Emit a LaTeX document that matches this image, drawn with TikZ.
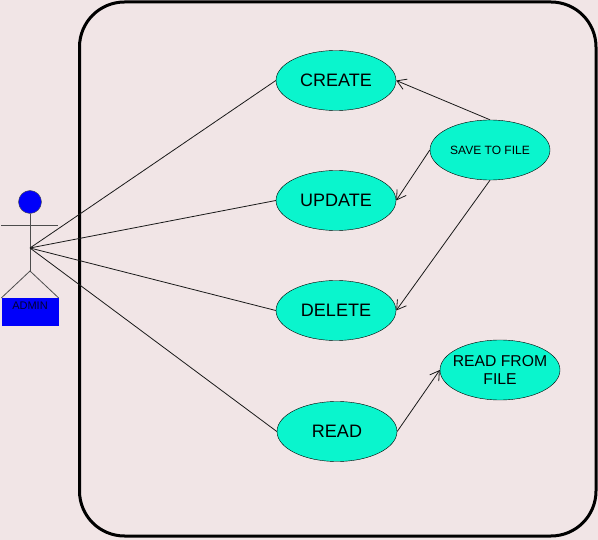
\documentclass[tikz,border=0pt]{standalone}
\usepackage{fontspec}
\setmainfont{Liberation Sans}
\usetikzlibrary{arrows.meta,shapes.geometric}
\definecolor{pagebg}{RGB}{241,229,230}
\definecolor{casefill}{RGB}{10,245,205}
\definecolor{actorblue}{RGB}{0,0,250}
\tikzset{
  usecase/.style={ellipse, draw=black, fill=casefill, minimum width=120pt, minimum height=60pt, inner sep=-6pt, align=center, font=\fontsize{18}{20}\selectfont},
  assoc/.style={draw=black!90, line width=0.8pt},
  dep/.style={assoc, -{Straight Barb[length=9pt,width=11pt]}},
  limb/.style={draw=black!70, line width=0.8pt}
}
\begin{document}
\begin{tikzpicture}[x=1pt,y=-1pt]
  \useasboundingbox[fill=pagebg] (0,0) rectangle (598,540);

  % system boundary
  \draw[line width=3pt, rounded corners=45pt] (79.5,2) rectangle (596,536);

  % actor
  \node[circle, draw=black!70, fill=actorblue, minimum size=23pt, inner sep=0pt] (head) at (30,202) {};
  \coordinate (armL) at (1,225);
  \coordinate (armR) at (58,225);
  \coordinate (hub) at (30,248);
  \coordinate (hip) at (30,271);
  \node[fill=actorblue, minimum width=57pt, minimum height=28pt, inner sep=0pt, anchor=north] (admin) at (30,298) {};
  \node[font=\fontsize{11}{12}\selectfont, text=black!80!blue] (adminlabel) at (30,306) {ADMIN};
  \draw[limb] (head) -- (hip);
  \draw[limb] (armL) -- (armR);
  \draw[limb] (admin.north west) -- (hip) -- (admin.north east);

  % use cases
  \node[usecase] (create) at (336,80.5) {CREATE};
  \node[usecase] (update) at (336,200.5) {UPDATE};
  \node[usecase] (delete) at (336,310.5) {DELETE};
  \node[usecase] (read) at (337,431.5) {READ};
  \node[usecase, font=\fontsize{12}{14}\selectfont] (save) at (490,150) {SAVE TO FILE};
  \node[usecase, font=\fontsize{15.7}{18}\selectfont] (readfile) at (500,370) {READ FROM\\FILE};

  \draw[assoc] (hub) -- (create.west);
  \draw[assoc] (hub) -- (update.west);
  \draw[assoc] (hub) -- (delete.west);
  \draw[assoc] (hub) -- (read.west);

  \draw[dep] (save.north) -- (create.east);
  \draw[dep] (save.west) -- (update.east);
  \draw[dep] (save.south) -- (delete.east);
  \draw[dep] (read.east) -- (readfile.west);
\end{tikzpicture}
\end{document}
